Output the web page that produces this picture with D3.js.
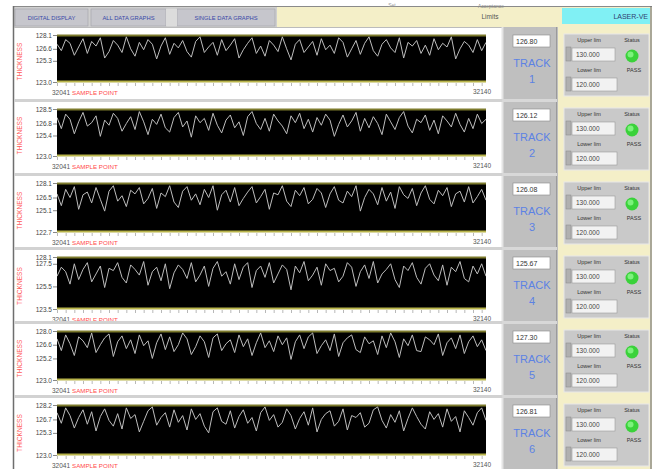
<!DOCTYPE html>
<html><head><meta charset="utf-8">
<script src="https://cdn.jsdelivr.net/npm/d3@7"></script>
<style>html,body{margin:0;padding:0;background:#fff;overflow:hidden}svg{display:block;font-family:"Liberation Sans",Arial,sans-serif}</style>
</head><body><svg id="c" width="652" height="469"></svg>
<script>
// ---- data ----
const tabLabels = ["DIGITAL DISPLAY", "ALL DATA GRAPHS", "SINGLE DATA GRAPHS"];
const trackNames = ["1", "2", "3", "4", "5", "6"];
const currentValues = ["126.80", "126.12", "126.08", "125.67", "127.30", "126.81"];
const upperLimits = ["130.000", "130.000", "130.000", "130.000", "130.000", "130.000"];
const lowerLimits = ["120.000", "120.000", "120.000", "120.000", "120.000", "120.000"];
const statusLabels = ["PASS", "PASS", "PASS", "PASS", "PASS", "PASS"];
const yDomains = [[123.0, 128.1], [123.0, 128.5], [122.7, 128.1], [123.5, 128.1], [123.0, 128.0], [123.0, 128.2]];
const yTicks = [
  [123.0, 125.3, 126.6, 128.1],
  [123.0, 125.4, 126.8, 128.5],
  [122.7, 125.1, 126.5, 128.1],
  [123.5, 125.5, 127.5, 128.1],
  [123.0, 125.2, 126.6, 128.0],
  [123.0, 125.3, 126.7, 128.2]
];
const xStartLabel = "32041";
const xEndLabel = "32140";
const track1 = [127.1,126.4,127.6,127.2,125.9,126.8,127.7,126.1,127.4,126.9,127.8,125.6,126.3,127.5,127.0,126.2,127.9,126.6,125.8,127.3,126.5,127.6,127.1,125.5,126.9,127.8,126.0,127.2,126.7,127.5,126.3,125.7,127.4,127.9,126.2,126.8,127.3,125.9,127.6,126.4,127.0,127.7,125.6,126.5,127.2,127.8,126.1,126.9,125.8,127.5,127.0,126.3,127.9,126.6,125.4,127.1,127.6,126.2,126.8,127.4,125.9,127.7,126.5,127.0,126.1,127.8,127.3,125.7,126.6,127.5,126.0,127.2,127.9,126.4,125.8,127.1,127.6,126.7,126.2,127.8,125.6,127.3,126.9,127.5,126.1,127.0,125.9,127.7,126.5,127.2,126.8,127.9,125.5,126.6,127.4,127.0,126.2,127.6,126.4,127.3];
const track2 = [127.5,126.2,127.9,127.3,125.6,127.0,128.1,126.5,126.9,127.7,125.3,127.2,126.6,128.0,127.4,125.9,126.8,127.6,126.1,128.2,127.0,125.5,127.3,126.7,127.9,126.3,125.8,127.5,128.1,126.4,127.1,125.2,127.7,126.9,127.4,126.0,128.0,126.6,125.7,127.2,127.8,126.3,127.0,125.4,127.6,128.2,126.8,126.1,127.4,125.9,127.9,127.1,126.5,125.6,127.7,126.9,128.0,126.2,127.3,125.8,127.5,126.6,127.9,127.2,125.3,126.7,127.8,126.4,127.1,128.1,125.9,127.4,126.3,127.6,126.8,125.5,127.9,127.0,126.1,127.5,128.2,126.5,125.7,127.3,126.9,127.8,126.0,127.2,125.6,127.7,127.1,126.4,128.0,126.7,125.8,127.4,126.2,127.9,126.8,127.3];
const track3 = [126.9,125.6,127.4,126.5,127.7,125.2,126.8,127.1,125.9,127.6,126.3,125.0,127.2,127.8,126.1,126.7,125.5,127.3,126.9,127.6,125.8,126.4,127.5,125.3,127.0,126.6,127.8,126.0,125.4,127.2,127.7,126.2,126.9,125.7,127.4,126.5,127.8,125.1,126.8,127.3,126.0,127.6,125.6,126.4,127.1,127.7,125.9,126.6,127.4,125.2,127.0,126.8,127.8,126.1,125.5,127.3,126.7,127.6,125.8,126.3,127.5,127.0,125.4,126.9,127.7,126.2,125.9,127.2,126.6,127.8,125.0,126.5,127.4,126.9,125.7,127.6,126.1,127.1,125.3,127.7,126.8,126.4,127.5,125.6,127.0,127.8,126.3,125.8,127.3,126.7,127.6,125.5,126.9,127.2,126.0,127.7,125.9,126.6,127.4,126.2];
const track4 = [126.4,127.2,126.8,125.7,127.5,126.1,127.0,127.6,125.9,126.6,127.3,125.4,127.1,126.9,127.6,126.3,125.8,127.4,127.0,126.5,127.7,125.6,126.8,127.2,126.0,127.5,125.3,126.7,127.4,127.0,126.2,127.6,125.9,126.5,127.3,125.5,127.1,127.7,126.4,126.8,125.7,127.5,126.1,127.2,127.6,125.4,126.9,127.3,126.3,127.6,125.8,126.6,127.4,127.0,125.2,127.3,126.7,127.7,126.0,126.5,127.2,125.6,127.5,126.9,127.1,125.9,126.4,127.6,127.2,125.5,126.8,127.4,126.2,127.7,125.8,126.6,127.0,127.5,126.1,125.4,127.3,126.9,127.6,126.3,125.7,127.1,127.5,126.5,126.0,127.4,125.6,127.2,126.8,127.7,126.2,125.9,127.3,126.6,127.5,126.4];
const track5 = [127.2,126.0,127.6,126.7,125.5,127.4,127.0,126.3,127.8,125.8,126.6,127.3,127.7,125.4,126.9,127.5,126.2,127.1,125.7,127.6,126.5,127.0,125.2,126.8,127.7,126.1,127.4,125.9,126.6,127.8,127.2,125.6,126.4,127.5,126.9,125.3,127.3,127.7,126.0,126.7,127.1,125.8,127.6,126.4,127.2,125.5,126.8,127.8,126.3,127.0,125.9,127.5,126.6,127.3,125.1,126.9,127.6,126.2,127.4,127.8,125.7,126.5,127.1,126.0,127.7,125.4,126.8,127.3,127.6,126.1,125.8,127.4,126.7,127.0,125.6,127.5,126.3,127.8,126.9,125.3,127.2,126.5,127.6,126.0,125.9,127.4,127.1,126.6,127.7,125.5,126.8,127.3,126.2,127.6,125.7,126.9,127.5,126.4,127.1,126.0];
const track6 = [127.4,126.3,127.9,127.1,125.8,126.9,127.7,126.2,127.5,125.5,127.0,127.8,126.6,126.0,127.3,125.7,127.9,126.8,127.2,125.4,126.5,127.6,128.0,126.1,126.9,127.4,125.9,127.7,126.4,127.1,125.6,127.8,126.7,127.3,126.0,125.3,127.5,127.9,126.5,126.2,127.6,125.8,127.0,127.7,126.3,126.9,125.5,127.4,128.0,126.6,127.2,125.9,126.4,127.8,127.1,125.7,126.8,127.5,126.1,127.9,125.4,126.7,127.3,127.6,126.0,126.5,127.8,125.6,127.1,126.9,127.4,125.9,126.3,127.7,128.0,126.6,125.8,127.2,126.4,127.6,125.5,126.8,127.9,127.0,126.2,125.7,127.5,126.7,127.3,125.9,127.8,126.5,127.0,125.4,127.6,126.9,126.1,127.4,127.9,126.6];
const tracks = [track1, track2, track3, track4, track5, track6];

// ---- layout ----
const svg = d3.select("#c");
const plotTops = [35, 109, 183, 257, 331, 405];
const plotHeights = [47, 47, 49, 52, 49, 50];
const plotX0 = 57, plotX1 = 486;
const beige = "#f4efc8";

svg.append("rect").attr("x",0).attr("y",0).attr("width",652).attr("height",469).attr("fill","#fff");
svg.append("rect").attr("x",13).attr("y",6).attr("width",639).attr("height",463).attr("fill",beige);
svg.append("rect").attr("x",13).attr("y",6).attr("width",264).attr("height",21).attr("fill","#cfcfcf");
svg.append("line").attr("x1",13).attr("x2",652).attr("y1",6.5).attr("y2",6.5).attr("stroke","#8a8a8a");
svg.append("rect").attr("x",562).attr("y",8).attr("width",88).attr("height",16).attr("fill","#80f0f4");
svg.append("text").attr("x",648).attr("y",19).attr("text-anchor","end").attr("font-size",7).attr("fill","#304070").text("LASER-VE");
svg.append("text").attr("x",490).attr("y",19).attr("text-anchor","middle").attr("font-size",6.5).attr("fill","#555").text("Limits");
svg.append("text").attr("x",491).attr("y",8).attr("text-anchor","middle").attr("font-size",5).attr("fill","#888").text("Acceptance");
svg.append("text").attr("x",392).attr("y",7).attr("text-anchor","middle").attr("font-size",5).attr("fill","#999").text("Set");

const tabX = [[15, 88], [91, 166], [177, 275]];
tabLabels.forEach((t, i) => {
  const [a, b] = tabX[i];
  svg.append("rect").attr("x",a).attr("y",9).attr("width",b-a).attr("height",17)
    .attr("fill", "#c6c6cc").attr("stroke","#a0a0a8").attr("stroke-width",0.6);
  svg.append("text").attr("x",(a+b)/2).attr("y",20).attr("text-anchor","middle")
    .attr("font-size",5.8).attr("fill","#3848a8").text(t);
});
svg.append("rect").attr("x",166).attr("y",9).attr("width",11).attr("height",17).attr("fill","#dcdcdc");

svg.append("rect").attr("x",14).attr("y",27).attr("width",488).attr("height",442).attr("fill","#fff");
svg.append("line").attr("x1",13.5).attr("x2",13.5).attr("y1",6).attr("y2",469).attr("stroke","#6e6e6e").attr("stroke-width",1.5);
svg.append("line").attr("x1",14).attr("x2",502).attr("y1",27.5).attr("y2",27.5).attr("stroke","#bbb");
svg.append("rect").attr("x",502).attr("y",27).attr("width",56).attr("height",442).attr("fill","#bfbfbf");
svg.append("line").attr("x1",502.5).attr("x2",502.5).attr("y1",27).attr("y2",469).attr("stroke","#e4e4e4").attr("stroke-width",2);
svg.append("line").attr("x1",556.5).attr("x2",556.5).attr("y1",27).attr("y2",469).attr("stroke","#9a9a9a");
svg.append("line").attr("x1",651).attr("x2",651).attr("y1",6).attr("y2",469).attr("stroke","#777").attr("stroke-width",1.2);

tracks.forEach((data, i) => {
  const top = plotTops[i], h = plotHeights[i], bot = top + h;
  if (i > 0) {
    svg.append("rect").attr("x",14).attr("y",top-10).attr("width",488).attr("height",3).attr("fill","#d2d2d2");
    svg.append("rect").attr("x",502).attr("y",top-10).attr("width",55).attr("height",3).attr("fill","#d8d8d8");
  }
  const x = d3.scaleLinear().domain([0, data.length - 1]).range([plotX0, plotX1]);
  const y = d3.scaleLinear().domain(yDomains[i]).range([bot, top]);
  const g = svg.append("g");
  g.append("rect").attr("x",plotX0).attr("y",top).attr("width",plotX1-plotX0).attr("height",h).attr("fill","#000");
  g.append("line").attr("x1",plotX0).attr("x2",plotX1).attr("y1",top+0.5).attr("y2",top+0.5).attr("stroke","#7c7a2c").attr("stroke-width",2.2);
  g.append("line").attr("x1",plotX0).attr("x2",plotX1).attr("y1",bot-0.5).attr("y2",bot-0.5).attr("stroke","#b8b44a").attr("stroke-width",2.2);
  const clipId = "clip" + i;
  svg.append("clipPath").attr("id", clipId).append("rect").attr("x",plotX0).attr("y",top+1).attr("width",plotX1-plotX0).attr("height",h-2);
  g.append("path").datum(data).attr("clip-path","url(#"+clipId+")")
    .attr("d", d3.line().x((d, j) => x(j)).y(d => y(d)))
    .attr("fill","none").attr("stroke","#bdbdbd").attr("stroke-width",1);
  const ya = g.append("g").attr("transform","translate("+plotX0+",0)")
    .call(d3.axisLeft(y).tickValues(yTicks[i]).tickSize(4).tickPadding(1).tickFormat(d3.format(".1f")));
  ya.select(".domain").remove();
  ya.selectAll("text").attr("font-size",6.5).attr("fill","#444").attr("font-family","Liberation Sans, Arial");
  ya.selectAll("line").attr("stroke","#888");
  const xa = g.append("g").attr("transform","translate(0,"+(bot+1)+")")
    .call(d3.axisBottom(x).tickValues(d3.range(0, data.length, 2)).tickSize(3).tickFormat(""));
  xa.select(".domain").remove();
  xa.selectAll("line").attr("stroke","#b8b8b8");
  g.append("text").attr("x",70).attr("y",bot+13).attr("text-anchor","end").attr("font-size",6.5).attr("fill","#555").text(xStartLabel);
  g.append("text").attr("x",72).attr("y",bot+13).attr("font-size",6.2).attr("fill","#ff4a4a").text("SAMPLE POINT");
  g.append("text").attr("x",491).attr("y",bot+12).attr("text-anchor","end").attr("font-size",6.5).attr("fill","#555").text(xEndLabel);
  g.append("text").attr("transform","translate(22,"+(top+h/2+3)+") rotate(-90)").attr("text-anchor","middle")
    .attr("font-size",6.6).attr("fill","#ff5a5a").text("THICKNESS");

  g.append("rect").attr("x",513).attr("y",top).attr("width",37).attr("height",12).attr("fill","#fff").attr("stroke","#888").attr("stroke-width",0.6);
  g.append("text").attr("x",516).attr("y",top+9).attr("font-size",7).attr("fill","#333").text(currentValues[i]);
  g.append("text").attr("x",532).attr("y",top+32).attr("text-anchor","middle").attr("font-size",11).attr("fill","#5c82e4").text("TRACK");
  g.append("text").attr("x",532).attr("y",top+48).attr("text-anchor","middle").attr("font-size",11).attr("fill","#5c82e4").text(trackNames[i]);

  const py = top - 1;
  g.append("rect").attr("x",564).attr("y",py).attr("width",85).attr("height",62).attr("fill","#c9c9c9").attr("stroke","#e8e8e8").attr("stroke-width",1);
  g.append("text").attr("x",589).attr("y",py+8).attr("text-anchor","middle").attr("font-size",5.5).attr("fill","#333").text("Upper lim");
  g.append("text").attr("x",632).attr("y",py+8).attr("text-anchor","middle").attr("font-size",5.5).attr("fill","#333").text("Status");
  g.append("rect").attr("x",566).attr("y",py+13).attr("width",5).attr("height",14).attr("fill","#b0b0b0").attr("stroke","#888").attr("stroke-width",0.5);
  g.append("rect").attr("x",572).attr("y",py+14).attr("width",43).attr("height",13).attr("fill","#f2f2f2").attr("stroke","#999").attr("stroke-width",0.6);
  g.append("text").attr("x",576).attr("y",py+23).attr("font-size",6.5).attr("fill","#444").text(upperLimits[i]);
  g.append("circle").attr("cx",632).attr("cy",py+22).attr("r",6.5).attr("fill","#3ad23a");
  g.append("circle").attr("cx",630.5).attr("cy",py+20.5).attr("r",3).attr("fill","#7cf27c");
  g.append("text").attr("x",589).attr("y",py+38).attr("text-anchor","middle").attr("font-size",5.5).attr("fill","#333").text("Lower lim");
  g.append("text").attr("x",634).attr("y",py+38).attr("text-anchor","middle").attr("font-size",5.5).attr("fill","#333").text(statusLabels[i]);
  g.append("rect").attr("x",566).attr("y",py+43).attr("width",5).attr("height",14).attr("fill","#b0b0b0").attr("stroke","#888").attr("stroke-width",0.5);
  g.append("rect").attr("x",572).attr("y",py+44).attr("width",45).attr("height",13).attr("fill","#f2f2f2").attr("stroke","#999").attr("stroke-width",0.6);
  g.append("text").attr("x",576).attr("y",py+53).attr("font-size",6.5).attr("fill","#444").text(lowerLimits[i]);
});
</script></body></html>
